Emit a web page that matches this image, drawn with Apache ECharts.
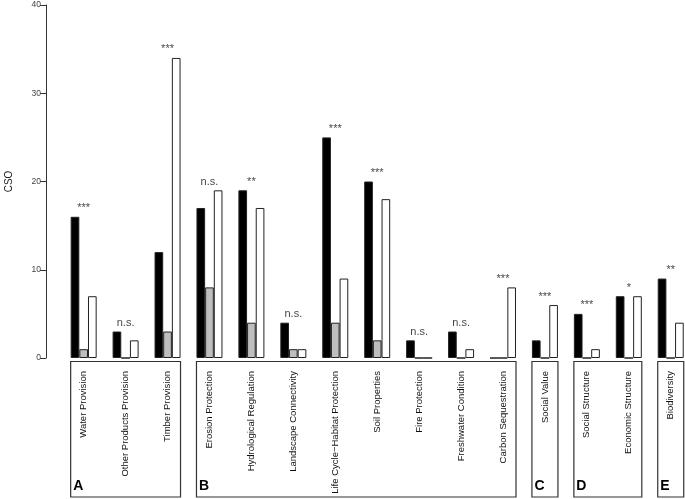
<!DOCTYPE html>
<html>
<head>
<meta charset="utf-8">
<script src="https://cdn.jsdelivr.net/npm/echarts@6/dist/echarts.min.js"></script>
<style>html,body{margin:0;padding:0;background:#fff}#c{width:685px;height:499px}</style>
</head>
<body>
<div id="c"></div>
<script>
const categories = ['Water Provision','Other Products Provision','Timber Provision','Erosion Protection','Hydrological Regulation','Landscape Connectivity','Life Cycle\u2212Habitat Protection','Soil Properties','Fire Protection','Freshwater Condition','Carbon Sequestration','Social Value','Social Structure','Economic Structure','Biodiversity'];
const blackVals = [16,3,12,17,19,4,25,20,2,3,0,2,5,7,9];
const grayVals  = [1,0,3,8,4,1,4,2,0,0,0,0,0,0,0];
const whiteVals = [7,2,34,19,17,1,9,18,0,1,8,6,1,7,4];
const sigLabels = ['***','n.s.','***','n.s.','**','n.s.','***','***','n.s.','n.s.','***','***','***','*','**'];
const groupStart = [0,3,11,12,14];
const groupEnd   = [2,10,11,13,14];
const groupLetters = ['A','B','C','D','E'];
const yTicks = [0,10,20,30,40];

const FONT = 'Liberation Sans, Arial, sans-serif';
const GAP = 0.38;
const chart = echarts.init(document.getElementById('c'), null, {renderer:'canvas'});
const sigData = categories.map((c,i)=>({value: Math.max(blackVals[i],grayVals[i],whiteVals[i]), sig: sigLabels[i]}));
const boxData = groupLetters.map((l,i)=>[groupStart[i], groupEnd[i], 0, l]);
const barStyle = c => ({color:c, borderColor:'#222', borderWidth:1});
chart.setOption({
  animation:false,
  backgroundColor:'#fff',
  grid:{left:62.7, right:-6.7, top:5, bottom:141, containLabel:false, outerBoundsMode:'none'},
  xAxis:{type:'category', data:categories,
    axisLine:{show:false}, axisTick:{show:false},
    axisLabel:{rotate:90, margin:13, fontSize:9.5, color:'#111', fontFamily:FONT, interval:0}},
  yAxis:{type:'value', min:yTicks[0], max:yTicks[yTicks.length-1], interval:10, offset:16.7,
    name:'CSO', nameLocation:'middle', nameGap:32, nameRotate:90,
    nameTextStyle:{fontSize:10, color:'#222', fontFamily:FONT},
    splitLine:{show:false},
    axisLine:{show:true, lineStyle:{color:'#333', width:1}},
    axisTick:{show:true, length:6, lineStyle:{color:'#333'}},
    axisLabel:{fontSize:8.5, color:'#444', margin:5, fontFamily:FONT}},
  series:[
    {type:'bar', data:blackVals, barGap:'0%', barCategoryGap:(GAP*100)+'%', itemStyle:barStyle('#000')},
    {type:'bar', data:grayVals, barGap:'0%', barCategoryGap:(GAP*100)+'%', itemStyle:barStyle('#bebebe')},
    {type:'bar', data:whiteVals, barGap:'0%', barCategoryGap:(GAP*100)+'%', itemStyle:barStyle('#ffffff')},
    {type:'scatter', data:sigData, symbolSize:0, silent:true,
      label:{show:true, position:'top', distance:3, fontSize:11, color:'#111', fontFamily:FONT,
        formatter:p=>p.data.sig}},
    {type:'custom', data:boxData, clip:false, silent:true, encode:{x:[0,1], y:2},
      renderItem:function(params, api){
        const p0 = api.coord([api.value(0), 0]);
        const p1 = api.coord([api.value(1), 0]);
        const band = api.size([1,0])[0];
        const half = band*(1-GAP)/2;
        const x0 = p0[0]-half, x1 = p1[0]+half;
        const y0 = p0[1]+3.5, y1 = p0[1]+139;
        return {type:'group', children:[
          {type:'rect', shape:{x:x0, y:y0, width:x1-x0, height:y1-y0},
            style:{fill:null, stroke:'#333', lineWidth:1.2}},
          {type:'text', style:{text:api.value(3), x:x0+2.5, y:y1-4, fill:'#000',
            font:'bold 14px '+FONT, verticalAlign:'bottom', align:'left'}}
        ]};
      }}
  ]
});
</script>
</body>
</html>
